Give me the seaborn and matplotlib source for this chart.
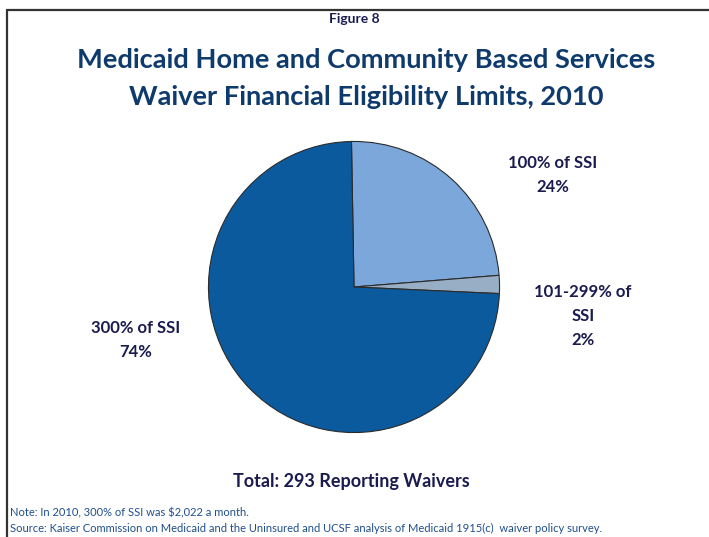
import matplotlib
matplotlib.use("Agg")
import matplotlib.pyplot as plt
import seaborn as sns
from matplotlib.lines import Line2D

# data
categories = ["100% of SSI", "101-299% of\nSSI", "300% of SSI"]
shares = [24, 2, 74]
slice_colors = ["#7BA7DB", "#98AEC5", "#0B5A9E"]

title_lines = ["Medicaid Home and Community Based Services",
               "Waiver Financial Eligibility Limits, 2010"]
total_text = "Total: 293 Reporting Waivers"
note_text = "Note: In 2010, 300% of SSI was $2,022 a month."
source_text = ("Source: Kaiser Commission on Medicaid and the Uninsured and UCSF analysis "
               "of Medicaid 1915(c)  waiver policy survey.")

sns.set_theme(style="white")
plt.rcParams["font.family"] = ["Lato", "DejaVu Sans"]

W, H = 709, 537
fig = plt.figure(figsize=(W / 100, H / 100), dpi=100)
fig.patch.set_facecolor("white")


def fx(px):
    return px / W


def fy(py):
    return 1 - py / H


# frame: top and left border
fig.add_artist(Line2D([fx(7), 1], [fy(10), fy(10)], color="#333333", lw=1.6))
fig.add_artist(Line2D([fx(7), fx(7)], [fy(10), 0], color="#333333", lw=1.6))

# pie centred at (354, 287), radius ~147 px
cx, cy, r = 354, 287, 147
ax = fig.add_axes([fx(cx - r), fy(cy + r), 2 * r / W, 2 * r / H])
ax.pie(shares, colors=slice_colors, startangle=91, counterclock=False,
       radius=1, wedgeprops=dict(edgecolor="#2b2b2b", linewidth=0.8))
ax.set_xlim(-1.01, 1.01)
ax.set_ylim(-1.01, 1.01)
ax.set_aspect("equal")
ax.axis("off")

navy = "#1B1B4F"
title_col = "#0E3A6C"
note_col = "#1F4E8C"

fig.text(fx(354), fy(19), "Figure 8", ha="center", va="center",
         fontsize=10, fontweight="bold", color=navy)
fig.text(fx(366), fy(60), title_lines[0], ha="center", va="center",
         fontsize=19.6, fontweight="bold", color=title_col)
fig.text(fx(366), fy(97), title_lines[1], ha="center", va="center",
         fontsize=19.6, fontweight="bold", color=title_col)

# slice labels
label_pos = [(553, 175), (583, 316), (136, 340)]
for cat, val, (lx, ly) in zip(categories, shares, label_pos):
    fig.text(fx(lx), fy(ly), f"{cat}\n{val}%", ha="center", va="center",
             fontsize=12, fontweight="bold", color=navy, linespacing=1.6)

fig.text(fx(351), fy(482), total_text, ha="center", va="center",
         fontsize=13, fontweight="bold", color=navy)
fig.text(fx(10), fy(513), note_text, ha="left", va="center",
         fontsize=8, color=note_col)
fig.text(fx(10), fy(528), source_text, ha="left", va="center",
         fontsize=8, color=note_col)

fig.savefig("out.png", dpi=100, facecolor="white")
